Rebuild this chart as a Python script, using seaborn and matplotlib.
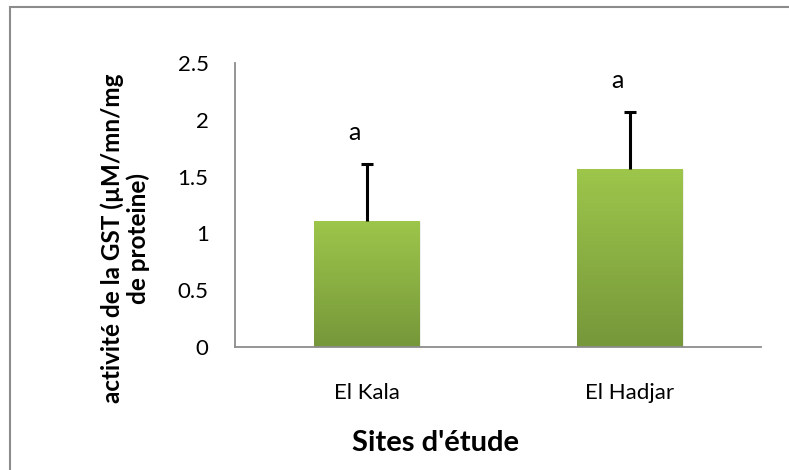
import numpy as np
import pandas as pd
import matplotlib
matplotlib.use("Agg")
import matplotlib.pyplot as plt
from matplotlib.patches import Rectangle
import seaborn as sns

# GST activity per sampling site
sites = ["El Kala", "El Hadjar"]
gst_mean = [1.11, 1.565]
gst_sd = [0.50, 0.50]
letters = ["a", "a"]
y_ticks = [0, 0.5, 1, 1.5, 2, 2.5]
y_tick_labels = ["0", "0.5", "1", "1.5", "2", "2.5"]

sns.set_theme(style="white")
plt.rcParams["font.family"] = ["Lato", "DejaVu Sans"]

W, H = 789, 470
fig = plt.figure(figsize=(W / 100, H / 100), dpi=100)
ax = fig.add_axes([235 / W, 1 - 347 / H, (761 - 235) / W, (347 - 63) / H])

df = pd.DataFrame({"site": sites, "gst": gst_mean})
sns.barplot(data=df, x="site", y="gst", color="#8db446", width=0.4,
            errorbar=None, ax=ax, saturation=1)

# vertical green gradient on each bar
top_c = np.array(matplotlib.colors.to_rgb("#9dc64b"))
bot_c = np.array(matplotlib.colors.to_rgb("#76973a"))
grad = np.linspace(0, 1, 256)[:, None]
img = top_c[None, None, :] * (1 - grad[..., None]) + bot_c[None, None, :] * grad[..., None]
for p in list(ax.patches):
    x0, y0 = p.get_x(), p.get_y()
    w, h = p.get_width(), p.get_height()
    # faint drop shadow around the bar
    sh = Rectangle((x0 + 0.004, y0), w + 0.004, h - 0.01, facecolor="#000000",
                   alpha=0.08, edgecolor="none", zorder=1)
    ax.add_patch(sh)
    im = ax.imshow(img, extent=[x0, x0 + w, y0, y0 + h], aspect="auto",
                   zorder=2, interpolation="bilinear")
    im.set_clip_path(p)
    p.set_zorder(2)

# upper error bars only
xs = np.arange(len(sites))
_, caps, _ = ax.errorbar(xs, gst_mean, yerr=[np.zeros(len(sites)), gst_sd],
                         fmt="none", ecolor="black", elinewidth=2.2,
                         capsize=4.6, capthick=2.2, zorder=3)
caps[0].set_visible(False)

# significance letters
for x, m, s, lt in zip(xs, gst_mean, gst_sd, letters):
    ax.annotate(lt, (x, m + s + 0.28), xytext=(-9, 0), textcoords="offset points",
                ha="center", va="center", fontsize=18, color="black")

ax.set_xlim(-0.5, 1.5)
ax.set_ylim(0, 2.5)
ax.set_yticks(y_ticks)
ax.set_yticklabels(y_tick_labels)
ax.tick_params(axis="both", length=0, labelsize=16, colors="black")
ax.tick_params(axis="y", pad=19)
ax.tick_params(axis="x", pad=26)

for side in ["top", "right"]:
    ax.spines[side].set_visible(False)
for side in ["left", "bottom"]:
    ax.spines[side].set_color("#8c8c8c")
    ax.spines[side].set_linewidth(1.3)

ax.set_xlabel("")
ax.set_ylabel("")
fig.text(125 / W, 1 - 238 / H, "activité de la GST (µM/mn/mg\nde proteine)",
         rotation=90, ha="center", va="center", fontsize=17.5, fontweight="bold",
         linespacing=1.15, color="black")
fig.text(435 / W, 1 - 443 / H, "Sites d'étude", ha="center", va="center",
         fontsize=21, fontweight="bold", color="black")

# chart area frame
fig.add_artist(Rectangle((10 / W, -0.2), 2, 1 - 7 / H + 0.2, transform=fig.transFigure,
                         fill=False, edgecolor="#8c8c8c", linewidth=1.5))

fig.savefig("out.png", dpi=100)
